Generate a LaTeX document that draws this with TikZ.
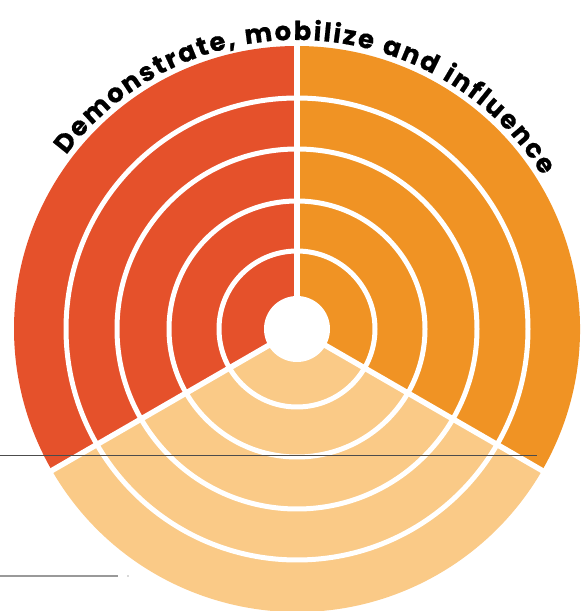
\documentclass[tikz,border=0pt]{standalone}
\usepackage{fontspec}
\newfontfamily\arcfont{Poppins}[FakeBold=0.6]
\usetikzlibrary{decorations.text,calc}
\definecolor{segred}{RGB}{229,81,43}
\definecolor{segorange}{RGB}{240,147,36}
\definecolor{seglight}{RGB}{250,202,135}
\tikzset{
  ring/.style={draw=white, line width=5pt},
  divider/.style={draw=white, line width=5.5pt},
  rule/.style={draw=black!70, line width=0.9pt},
  faintrule/.style={draw=black!40, line width=1.3pt}
}
\begin{document}
\begin{tikzpicture}[x=1pt,y=1pt]
\useasboundingbox (0,0) rectangle (585,611);
\coordinate (c) at (297,282);
% sectors
\fill[segred] (c) -- ++(90:283) arc[start angle=90,end angle=210,radius=283] -- cycle;
\fill[segorange] (c) -- ++(-30:283) arc[start angle=-30,end angle=90,radius=283] -- cycle;
\fill[seglight] (c) -- ++(210:283) arc[start angle=210,end angle=330,radius=283] -- cycle;
% rings
\foreach \r in {231,180,128,78} {\draw[ring] (c) circle[radius=\r];}
% dividers
\foreach \a in {90,210,330} {\draw[divider] (c) -- ++(\a:286);}
\fill[white] (c) circle[radius=33];
% arc text
\coordinate (ts) at ($(c)+(143:289)$);
\path[decorate, decoration={text along path, text align=fit to path,
  text={|\arcfont\bfseries\fontsize{26}{26}\selectfont|Demonstrate, mobilize and influence}}]
  (ts) arc[start angle=143,end angle=32,radius=289];
% horizontal rules
\coordinate (r1a) at (0,156);
\coordinate (r1b) at (537,156);
\draw[rule] (r1a) -- (r1b);
\coordinate (r2a) at (0,35);
\coordinate (r2b) at (118,35);
\draw[faintrule] (r2a) -- (r2b);
\coordinate (dot) at (128,35);
\fill[black!30] (dot) circle[radius=0.8];
\end{tikzpicture}
\end{document}
